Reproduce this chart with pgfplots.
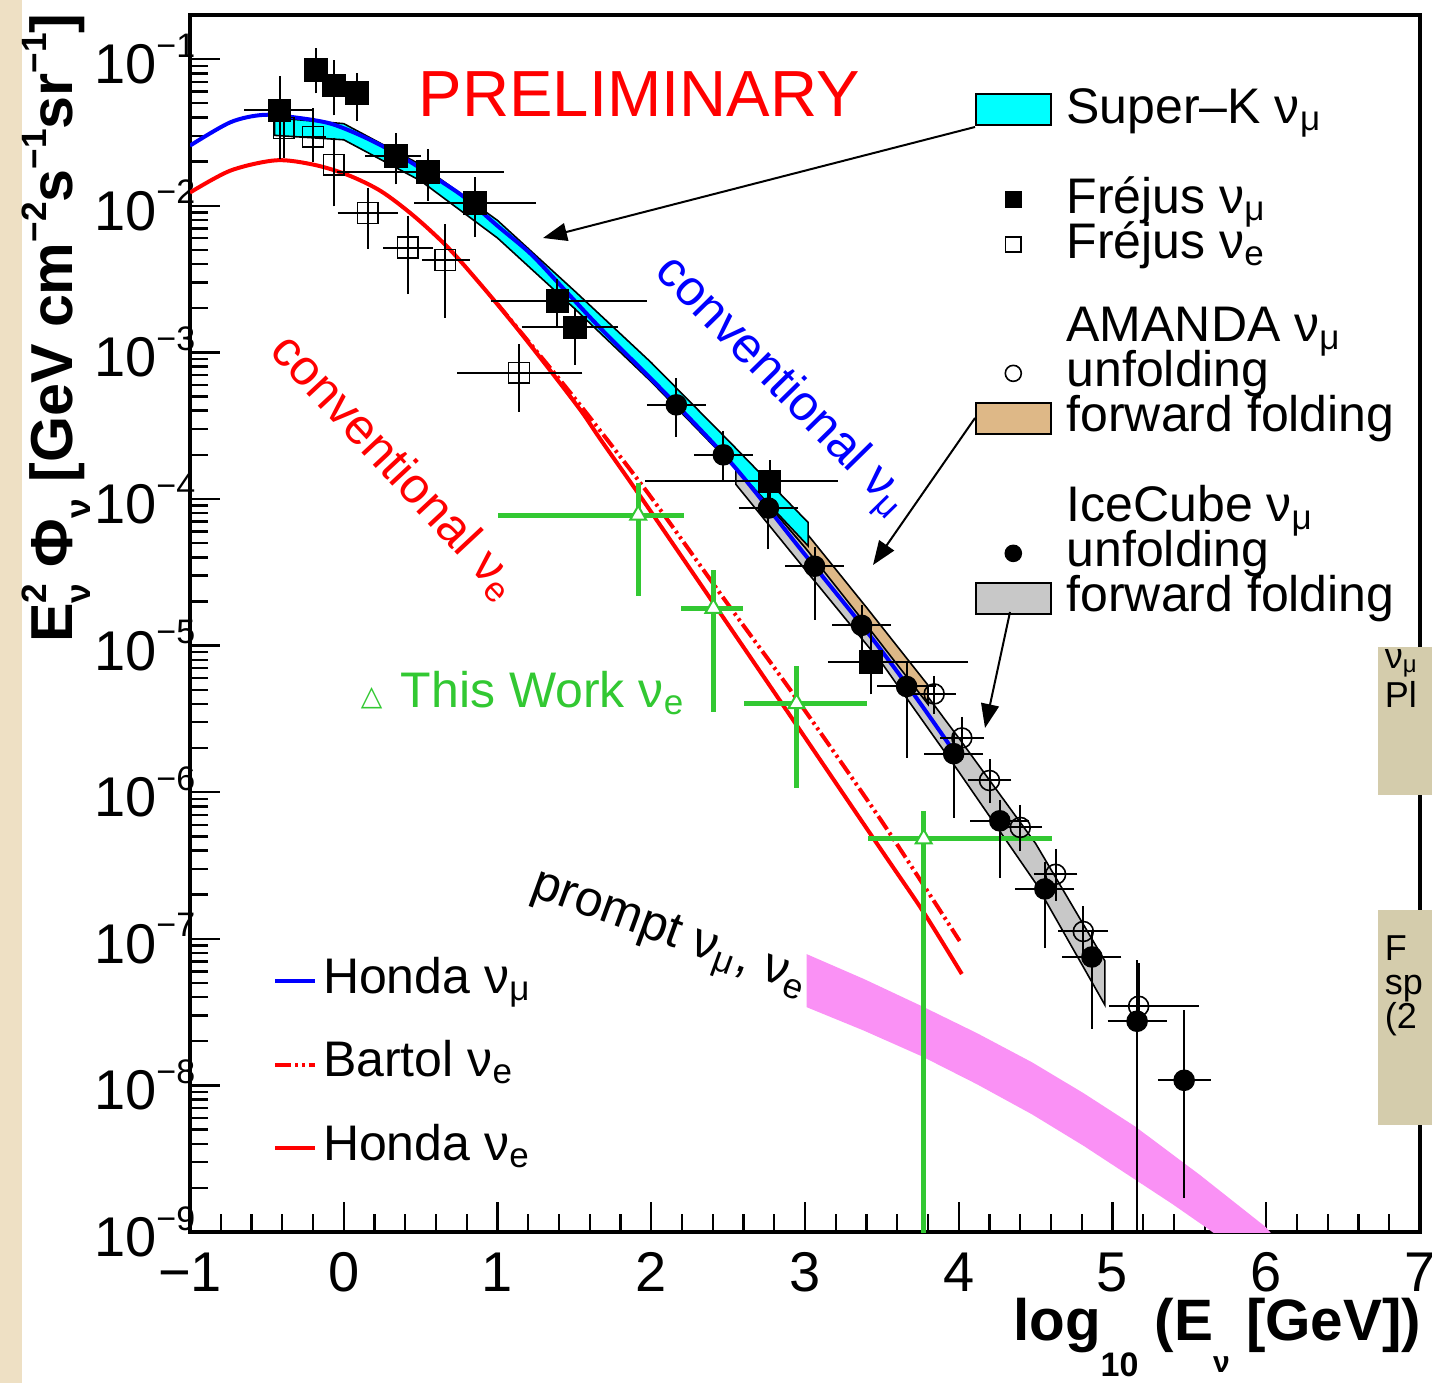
\documentclass[border=0pt]{standalone}
\usepackage{fontspec}
\setmainfont{Liberation Sans}
\newfontfamily\dejavu{DejaVu Sans}
\usepackage{pgfplots}
\pgfplotsset{compat=1.18}
\usetikzlibrary{arrows.meta}

\definecolor{skcyan}{RGB}{0,255,255}
\definecolor{amtan}{RGB}{222,184,135}
\definecolor{icgray}{RGB}{200,200,200}
\definecolor{prpink}{RGB}{250,145,245}
\definecolor{twgreen}{RGB}{50,200,50}
\definecolor{rootred}{RGB}{255,0,0}
\definecolor{rootblue}{RGB}{0,0,255}
\definecolor{khaki}{RGB}{212,204,172}
\definecolor{beige}{RGB}{238,224,196}

\newcommand{\lfont}{\fontsize{12.5}{14}\selectfont}
\newcommand{\tenexp}[1]{10\smash{\raisebox{6.6pt}{\fontsize{8.5}{9}\selectfont −#1}}}

\pgfplotsset{
  my box legend/.style={legend image code/.code={\draw[##1] (0pt,-3.9pt) rectangle (18.75pt,3.9pt);}},
  my mark legend/.style={legend image code/.code={\path[draw=none,fill=none] (0pt,0pt) -- (18.75pt,0pt); \draw[##1] plot coordinates {(9.375pt,0pt)};}},
  my line legend/.style={legend image code/.code={\draw[##1] (0pt,0pt) -- (10pt,0pt);}},
  my legend/.style={legend style={anchor=north west, draw=none, fill=none, inner sep=0pt, outer sep=0pt, row sep=0pt, font=\lfont}, legend cell align=left},
  legendaxis/.style={at={(47.5pt,37.75pt)}, anchor=south west, scale only axis, width=307.5pt, height=304.25pt, hide axis, xmin=0, xmax=1, ymin=0, ymax=1},
  bartol/.style={dash pattern=on 4pt off 1pt on 0.7pt off 1pt on 0.7pt off 1pt},
}

\begin{document}
\begin{tikzpicture}
\useasboundingbox (0,0) rectangle (358pt,345.75pt);
\begin{axis}[
  at={(47.5pt,37.75pt)}, anchor=south west,
  scale only axis, width=307.5pt, height=304.25pt,
  xmin=-1, xmax=7, ymin=1e-9, ymax=0.2,
  ymode=log,
  axis line style={line width=0.8pt},
  tick pos=left, tick align=inside,
  xtick={-1,0,1,2,3,4,5,6,7}, xticklabels={−1,0,1,2,3,4,5,6,7},
  minor x tick num=4,
  ytick={1e-9,1e-8,1e-7,1e-6,1e-5,1e-4,1e-3,1e-2,1e-1},
  yticklabels={\tenexp{9},\tenexp{8},\tenexp{7},\tenexp{6},\tenexp{5},\tenexp{4},\tenexp{3},\tenexp{2},\tenexp{1}},
  major tick length=7.5pt, minor tick length=4.5pt,
  tick style={black, line width=0.6pt},
  ticklabel style={font=\fontsize{14}{16}\selectfont, inner sep=0pt},
  xticklabel style={yshift=-5pt},
  yticklabel style={xshift=1.5pt, yshift=-1.3pt},
  my legend,
  legend style={at={(0.6382,0.9409)}, column sep=3.75pt, nodes={inner sep=0pt, text height=9.03pt, text depth=2.22pt}},
]
% prompt band
\addplot[forget plot, fill=prpink, draw=none] coordinates {
 (3.01,7.870e-8) (3.385,5.309e-8) (3.759,3.475e-8) (4.118,2.275e-8) (4.476,1.439e-8) (4.812,8.851e-9)
 (5.147,5.248e-9) (5.570,2.443e-9) (5.993,1.089e-9) (6.05,9.33e-10)
 (5.70,9.12e-10) (5.629,1.038e-9) (5.388,1.556e-9) (5.147,2.280e-9) (4.812,3.873e-9) (4.476,6.353e-9)
 (4.118,1.019e-8) (3.759,1.581e-8) (3.385,2.360e-8) (3.01,3.420e-8)
} -- cycle;
% IceCube forward folding
\addplot[forget plot, fill=icgray, draw=black, line width=0.4pt] coordinates {
 (2.55,1.660e-4) (3.0,4.677e-5) (3.5,1.175e-5) (4.0,2.344e-6) (4.5,4.467e-7) (4.95,7.079e-8)
 (4.95,3.548e-8) (4.5,2.399e-7) (4.0,1.380e-6) (3.5,7.586e-6) (3.0,3.311e-5) (2.55,1.259e-4)
} -- cycle;
% AMANDA forward folding
\addplot[forget plot, fill=amtan, draw=black, line width=0.4pt] coordinates {
 (2.11,6.026e-4) (2.5,2.344e-4) (3.0,6.026e-5) (3.4,1.820e-5) (3.8,5.370e-6)
 (3.8,3.981e-6) (3.4,1.380e-5) (3.0,4.677e-5) (2.5,1.905e-4) (2.11,5.012e-4)
} -- cycle;
% Super-K
\addplot[forget plot, fill=skcyan, draw=black, line width=0.4pt] coordinates {
 (-0.45,0.03981) (0.0,0.03631) (0.5,0.01905) (1.0,0.007943) (1.5,0.002630) (2.0,8.511e-4) (2.5,2.512e-4) (3.02,6.918e-5)
 (3.02,4.786e-5) (2.5,1.820e-4) (2.0,6.310e-4) (1.5,0.001995) (1.0,0.006026) (0.5,0.01479) (0.0,0.02818) (-0.45,0.03020)
} -- cycle;
% Honda nu_e
\addplot[forget plot, rootred, line width=1pt, smooth] coordinates {
 (-1.0,0.01230) (-0.736,0.01738) (-0.44,0.02042) (-0.195,0.01905) (0.026,0.01622) (0.241,0.01259)
 (0.456,0.008511) (0.678,0.005188) (0.893,0.002884) (1.107,0.001549) (1.329,7.852e-4) (1.544,3.981e-4)
 (1.674,2.512e-4) (2.0,8.128e-5) (2.827,4.365e-6) (3.5,3.981e-7) (3.772,1.514e-7) (4.02,5.754e-8)
};
% Bartol nu_e
\addplot[forget plot, rootred, line width=1pt, smooth, bartol] coordinates {
 (1.0,0.002138) (1.5,4.898e-4) (2.0,1.023e-4) (2.5,1.905e-5) (2.93,4.571e-6) (3.5,6.310e-7) (4.006,9.66e-8)
};
% Honda nu_mu
\addplot[forget plot, rootblue, line width=1pt, smooth] coordinates {
 (-1.0,0.02570) (-0.736,0.03715) (-0.521,0.04169) (-0.30,0.03981) (-0.085,0.03631) (0.130,0.02951)
 (0.352,0.02239) (0.567,0.01622) (0.782,0.01148) (1.003,0.007244) (1.218,0.004677) (1.433,0.002692)
 (1.674,0.001445) (2.111,5.012e-4) (2.541,1.660e-4) (2.977,4.467e-5) (3.414,1.202e-5) (3.713,4.571e-6) (3.954,1.995e-6)
};
% This work nu_e
\addplot[forget plot, only marks, twgreen, mark=triangle*, mark size=2.3pt, mark options={fill=white, draw=twgreen, line width=0.5pt},
  error bars/.cd, x dir=both, x explicit, y dir=both, y explicit,
  error bar style={line width=1.3pt, twgreen}, error mark=none]
  table[x=x, y=y, x error plus=exp, x error minus=exm, y error plus=eyp, y error minus=eym] {
x y exp exm eyp eym
1.915 7.76e-5 0.295 0.915 5.1e-5 5.57e-5
2.404 1.795e-5 0.195 0.21 1.47e-5 1.44e-5
2.945 4.03e-6 0.455 0.34 3.18e-6 2.97e-6
3.772 4.81e-7 0.834 0.365 2.6e-7 4.809e-7
};
% Frejus nu_mu
\addplot[forget plot, only marks, black, mark=square*, mark size=2.75pt,
  error bars/.cd, x dir=both, x explicit, y dir=both, y explicit,
  error bar style={line width=0.5pt, black}, error mark options={line width=0.5pt, mark size=1.6pt}]
  table[x=x, y=y, x error plus=exp, x error minus=exm, y error plus=eyp, y error minus=eym] {
x y exp exm eyp eym
-0.417 0.04467 0.17 0.19 0.0245 0.0218
-0.18 0.0841 0 0 0.0231 0.0195
-0.065 0.0661 0 0 0.023 0.0204
0.085 0.0589 0.03 0.03 0.0135 0.0172
0.34 0.02188 0.12 0.16 0.0063 0.0064
0.547 0.01698 0.453 0.547 0.0049 0.0050
0.853 0.01047 0.357 0.353 0.00366 0.00371
1.39 0.002239 0.54 0.39 0.000645 0.000579
1.505 0.001479 0.235 0.305 0.000341 0.000567
2.77 1.318e-4 0.40 0.77 0.342e-4 0.318e-4
3.43 7.76e-6 0.59 0.24 4.83e-6 2.63e-6
};
% Frejus nu_e
\addplot[forget plot, only marks, black, mark=square, mark size=2.6pt, mark options={fill=white},
  error bars/.cd, x dir=both, x explicit, y dir=both, y explicit,
  error bar style={line width=0.5pt, black}, error mark options={line width=0.5pt, mark size=1.6pt}]
  table[x=x, y=y, x error plus=exp, x error minus=exm, y error plus=eyp, y error minus=eym] {
x y exp exm eyp eym
-0.39 0.0339 0 0 0.0059 0.0105
-0.20 0.02951 0.04 0.04 0.0122 0.0076
-0.065 0.01905 0 0 0.0073 0.0081
0.156 0.008913 0.155 0.155 0.00311 0.00329
0.417 0.005188 0.12 0.12 0.00257 0.00243
0.66 0.004266 0.12 0.11 0.0025 0.00236
1.14 7.244e-4 0.37 0.36 2.99e-4 2.88e-4
};
% AMANDA unfolding
\addplot[forget plot, only marks, black, mark=o, mark size=2.5pt, mark options={fill=white},
  error bars/.cd, x dir=both, x explicit, y dir=both, y explicit,
  error bar style={line width=0.5pt, black}, error mark options={line width=0.5pt, mark size=1.6pt}]
  table[x=x, y=y, x error plus=exp, x error minus=exm, y error plus=eyp, y error minus=eym] {
x y exp exm eyp eym
3.84 4.68e-6 0.1 0.1 0.94e-6 0.88e-6
4.02 2.344e-6 0.1 0.1 0.61e-6 0.52e-6
4.20 1.202e-6 0.1 0.1 0.31e-6 0.269e-6
4.40 5.75e-7 0.1 0.1 1.66e-7 1.38e-7
4.63 2.754e-7 0.1 0.1 0.96e-7 0.75e-7
4.81 1.122e-7 0.12 0.12 0.39e-7 0.328e-7
5.17 3.467e-8 0.35 0.15 2.7e-8 0.72e-8
};
% IceCube unfolding
\addplot[forget plot, only marks, black, mark=*, mark size=2.5pt,
  error bars/.cd, x dir=both, x explicit, y dir=both, y explicit,
  error bar style={line width=0.5pt, black}, error mark options={line width=0.5pt, mark size=1.6pt}]
  table[x=x, y=y, x error plus=exp, x error minus=exm, y error plus=eyp, y error minus=eym] {
x y exp exm eyp eym
2.163 4.385e-4 0.15 0.15 1.64e-4 1.44e-4
2.469 2.0e-4 0.15 0.15 0.63e-4 0.555e-4
2.762 8.67e-5 0.15 0.15 3.08e-5 3.66e-5
3.062 3.475e-5 0.15 0.15 0.79e-5 1.815e-5
3.368 1.374e-5 0.15 0.15 0.326e-5 4.83e-6
3.661 5.26e-6 0.15 0.15 1.66e-6 3.355e-6
3.967 1.832e-6 0.15 0.15 0.51e-6 1.091e-6
4.267 6.38e-7 0.15 0.15 1.56e-7 3.50e-7
4.560 2.188e-7 0.15 0.15 0.83e-7 1.233e-7
4.866 7.52e-8 0.15 0.15 2.48e-8 4.83e-8
5.160 2.74e-8 0.15 0.15 3.72e-8 2.64e-8
5.466 1.084e-8 0.13 0.13 1.866e-8 8.94e-9
};
% legend group 1
\addlegendimage{my box legend, fill=skcyan, draw=black, line width=0.4pt}
\addlegendentry{Super–K ν\textsubscript{μ}}
\addlegendimage{empty legend}
\addlegendentry{\phantom{A}}
\addlegendimage{black, fill=black, mark=square*, mark size=1.9pt, my mark legend}
\addlegendentry{Fréjus ν\textsubscript{μ}}
\addlegendimage{black, mark=square, mark size=1.9pt, mark options={fill=white}, my mark legend}
\addlegendentry{Fréjus ν\textsubscript{e}}
\end{axis}

% legend group 2
\begin{axis}[legendaxis, my legend,
  legend style={at={(0.6382,0.7610)}, column sep=3.75pt, nodes={inner sep=0pt, text height=9.03pt, text depth=2.22pt}}]
\addlegendimage{empty legend}
\addlegendentry{AMANDA ν\textsubscript{μ}}
\addlegendimage{black, mark=o, mark size=2pt, mark options={fill=white}, my mark legend}
\addlegendentry{unfolding}
\addlegendimage{my box legend, fill=amtan, draw=black, line width=0.4pt}
\addlegendentry{forward folding}
\addlegendimage{empty legend}
\addlegendentry{\phantom{A}}
\addlegendimage{empty legend}
\addlegendentry{IceCube ν\textsubscript{μ}}
\addlegendimage{black, fill=black, mark=*, mark size=2pt, my mark legend}
\addlegendentry{unfolding}
\addlegendimage{my box legend, fill=icgray, draw=black, line width=0.4pt}
\addlegendentry{forward folding}
\end{axis}

% legend group 3
\begin{axis}[legendaxis, my legend,
  legend style={at={(0.0675,0.2406)}, column sep=1.5pt, nodes={inner sep=0pt, text height=13.45pt, text depth=7.45pt}}]
\addlegendimage{rootblue, line width=1pt, my line legend}
\addlegendentry{Honda ν\textsubscript{μ}}
\addlegendimage{rootred, line width=1pt, bartol, my line legend}
\addlegendentry{Bartol ν\textsubscript{e}}
\addlegendimage{rootred, line width=1pt, my line legend}
\addlegendentry{Honda ν\textsubscript{e}}
\end{axis}

\begin{scope}[x=0.25pt, y=-0.25pt, shift={(0pt,345.75pt)}]
 \fill[beige] (0,0) rectangle (22,1383);
 \node[anchor=base west, inner sep=0pt, text=rootred, font=\fontsize{16.3}{18}\selectfont] at (418,117) {PRELIMINARY};
 \node[anchor=base west, inner sep=0pt, rotate=-45.5, text=rootblue, font=\lfont] at (653,273) {conventional ν\textsubscript{μ}};
 \node[anchor=base west, inner sep=0pt, rotate=-47, text=rootred, font=\lfont] at (268,352) {conventional ν\textsubscript{e}};
 \node[anchor=base west, inner sep=0pt, rotate=-20, font=\lfont] at (529,895) {prompt ν\textsubscript{μ}, ν\textsubscript{e}};
 \node[anchor=base west, inner sep=0pt, text=twgreen, font=\lfont] at (400,707) {This Work ν\textsubscript{e}};
 \node[anchor=base west, inner sep=0pt, text=twgreen, font=\dejavu\fontsize{7}{8}\selectfont] at (360,705) {△};
 \draw[line width=0.5pt, -{Triangle[length=6pt,width=4.5pt]}] (975,127) -- (543,238);
 \draw[line width=0.5pt, -{Triangle[length=6pt,width=4.5pt]}] (975,418) -- (873,565);
 \draw[line width=0.5pt, -{Triangle[length=6pt,width=4.5pt]}] (1010,612) -- (985,728);
 \node[anchor=base east, inner sep=0pt, font=\bfseries\fontsize{14.6}{16}\selectfont] at (1422,1340)
   {log\raisebox{-9pt}{\fontsize{8.5}{9}\selectfont 10} (E\raisebox{-8pt}{\fontsize{7.5}{8}\selectfont ν} [GeV])};
 \node[anchor=base, inner sep=0pt, rotate=90, font=\bfseries\fontsize{14.8}{16}\selectfont] at (72,328)
   {E\rlap{\raisebox{6.5pt}{\fontsize{8.8}{9}\selectfont 2}}\raisebox{-4.5pt}{\fontsize{8.8}{9}\selectfont ν} Φ\raisebox{-4.5pt}{\fontsize{8.8}{9}\selectfont ν} [GeV cm\raisebox{6.5pt}{\fontsize{8.8}{9}\selectfont −2}s\raisebox{6.5pt}{\fontsize{8.8}{9}\selectfont −1}sr\raisebox{6.5pt}{\fontsize{8.8}{9}\selectfont −1}]};
 \fill[khaki] (1378,647) rectangle (1440,795);
 \node[anchor=base west, inner sep=0pt, font=\fontsize{9}{10}\selectfont] at (1384,668) {ν\textsubscript{μ}};
 \node[anchor=base west, inner sep=0pt, font=\fontsize{9}{10}\selectfont] at (1384,707) {Pl};
 \fill[khaki] (1378,910) rectangle (1440,1125);
 \node[anchor=base west, inner sep=0pt, font=\fontsize{9}{10}\selectfont] at (1384,960) {F};
 \node[anchor=base west, inner sep=0pt, font=\fontsize{9}{10}\selectfont] at (1384,994) {sp};
 \node[anchor=base west, inner sep=0pt, font=\fontsize{9}{10}\selectfont] at (1384,1028) {(2};
\end{scope}
\end{tikzpicture}
\end{document}
